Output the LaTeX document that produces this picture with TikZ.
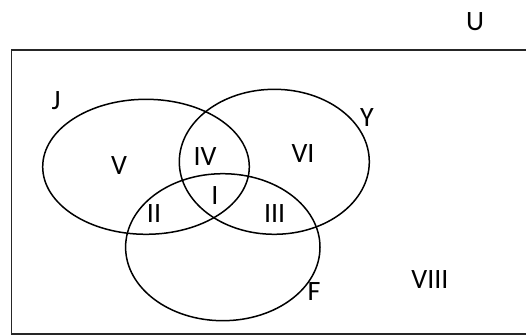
\documentclass[tikz,border=0pt]{standalone}
\usepackage{fontspec}
\setmainfont{Carlito}
\begin{document}
\begin{tikzpicture}[x=1pt,y=-1pt,
  setline/.style={line width=1.5pt,black},
  boxline/.style={line width=1.8pt,black!85},
  lab/.style={inner sep=0pt,font=\fontsize{28}{28}\selectfont}]
\useasboundingbox (0,0) rectangle (526,336);
\draw[boxline] (11.5,50) rectangle (540,334);
\draw[setline] (146,166.8) ellipse [x radius=103.3, y radius=67.5];
\draw[setline] (274.3,161.8) ellipse [x radius=95, y radius=72.5];
\draw[setline] (222.8,247.2) ellipse [x radius=97.2, y radius=73.5];
\node[lab] (u) at (475,21.5) {U};
\node[lab] (j) at (56,101) {J};
\node[lab] (y) at (367,118) {Y};
\node[lab] (v) at (119,166) {V};
\node[lab] (iv) at (205,156.7) {IV};
\node[lab] (vi) at (303,153.7) {VI};
\node[lab] (i) at (215,195.8) {I};
\node[lab] (ii) at (154,214) {II};
\node[lab] (iii) at (274.7,214) {III};
\node[lab] (f) at (314,292) {F};
\node[lab] (viii) at (430,280) {VIII};
\end{tikzpicture}
\end{document}
